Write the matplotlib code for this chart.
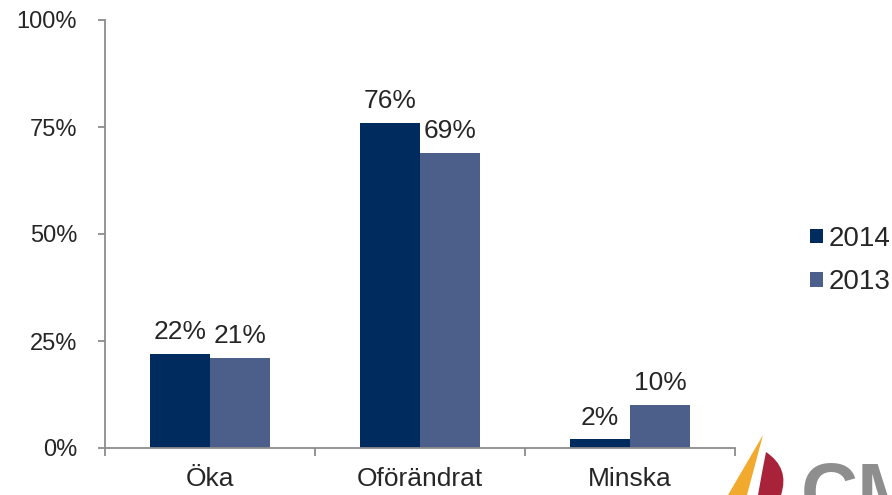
import matplotlib
matplotlib.use("Agg")
import matplotlib.pyplot as plt
import numpy as np
from matplotlib.patches import Polygon, PathPatch
from matplotlib.path import Path

categories = ["Öka", "Oförändrat", "Minska"]
series_names = ["2014", "2013"]
values_2014 = [22, 76, 2]
values_2013 = [21, 69, 10]
yticks = [0, 25, 50, 75, 100]

c2014 = "#002B5E"
c2013 = "#4B5F8A"
grey = "#8C8C8C"
textc = "#262626"

plt.rcParams['font.family'] = ['Liberation Sans', 'DejaVu Sans']

fig = plt.figure(figsize=(8.92, 4.95), dpi=100)
ax = fig.add_axes([105/892, 1-448/495, 630/892, 428/495])

x = np.arange(len(categories))
w = 0.286
b1 = ax.bar(x - w/2, values_2014, w, color=c2014, label=series_names[0])
b2 = ax.bar(x + w/2, values_2013, w, color=c2013, label=series_names[1])

for bars, vals in ((b1, values_2014), (b2, values_2013)):
    for r, v in zip(bars, vals):
        ax.annotate(f"{v}%", (r.get_x() + r.get_width()/2, r.get_height()),
                    xytext=(0, 7), textcoords="offset points",
                    ha="center", va="bottom", fontsize=19, color=textc)

ax.set_xlim(-0.5, 2.5)
ax.set_ylim(0, 100)
ax.set_yticks(yticks)
ax.set_yticklabels([f"{t}%" for t in yticks], fontsize=17, color=textc)
ax.set_xticks(x)
ax.set_xticklabels(categories, fontsize=19, color=textc)
ax.tick_params(axis='x', length=0, pad=14)
ax.set_xticks([-0.5, 0.5, 1.5, 2.5], minor=True)
ax.tick_params(axis='x', which='minor', length=6, color=grey, width=1.3)
ax.tick_params(axis='y', length=5, color=grey, width=1.3, pad=15)
for s in ("top", "right"):
    ax.spines[s].set_visible(False)
for s in ("left", "bottom"):
    ax.spines[s].set_color(grey)
    ax.spines[s].set_linewidth(1.3)

leg = ax.legend(loc="center left", bbox_to_anchor=((810-105)/630, (448-260.5)/428),
                frameon=False, borderpad=0, borderaxespad=0,
                fontsize=20, handlelength=0.45, handleheight=0.45, handletextpad=0.22,
                labelspacing=0.62, labelcolor=textc)

# logo overlay (decorative)
ov = fig.add_axes([0, 0, 1, 1], zorder=-1)
ov.set_xlim(0, 892); ov.set_ylim(495, 0); ov.axis("off")
ov.add_patch(Polygon([[728, 495], [763, 435], [747, 495]], closed=True, color="#F2AA2E", lw=0))
verts = [(766, 452), (790, 468), (781, 495), (758, 495), (762, 472), (766, 452)]
codes = [Path.MOVETO, Path.CURVE3, Path.CURVE3, Path.LINETO, Path.CURVE3, Path.CURVE3]
ov.add_patch(PathPatch(Path(verts, codes), color="#A8233A", lw=0))
ov.text(801, 519, "CM", fontsize=57, color="#8E8E8E", fontweight="bold", va="baseline", ha="left")

fig.savefig("out.png", dpi=100)
